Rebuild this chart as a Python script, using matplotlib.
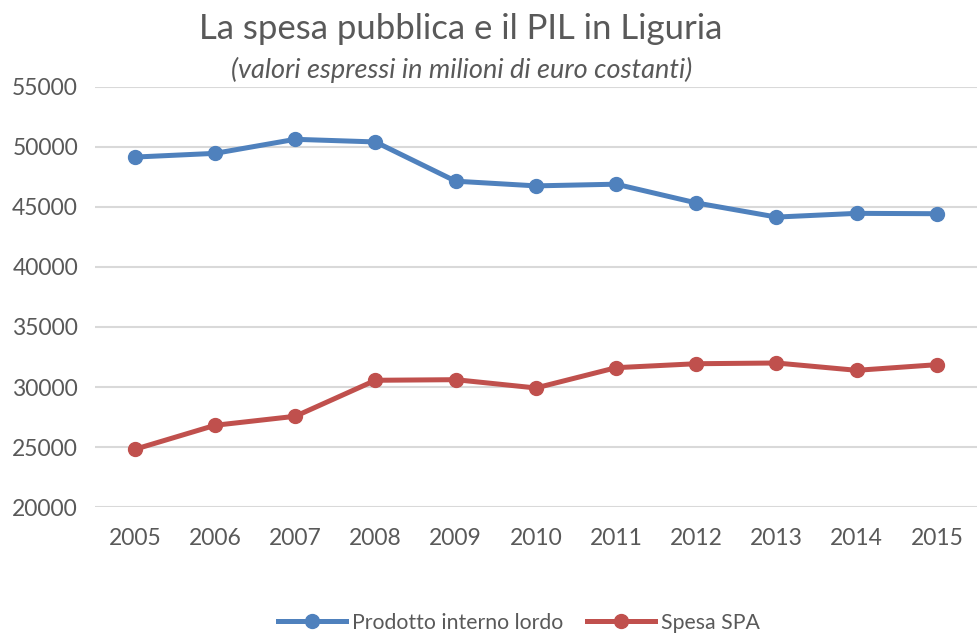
import matplotlib
matplotlib.use("Agg")
import matplotlib.pyplot as plt

anni = [2005, 2006, 2007, 2008, 2009, 2010, 2011, 2012, 2013, 2014, 2015]
pil = [49160, 49470, 50640, 50420, 47150, 46760, 46900, 45340, 44160, 44470, 44440]
spesa = [24810, 26810, 27560, 30560, 30610, 29920, 31610, 31940, 32000, 31390, 31860]
yticks = [20000, 25000, 30000, 35000, 40000, 45000, 50000, 55000]

plt.rcParams['font.family'] = ['Lato', 'DejaVu Sans']

fig = plt.figure(figsize=(9.77, 6.34), dpi=100)
ax = fig.add_axes([0.097, 0.2003, 0.903, 0.6625])

x = list(range(len(anni)))
ax.plot(x, pil, color='#4F81BD', lw=3.6, marker='o', ms=10, label='Prodotto interno lordo')
ax.plot(x, spesa, color='#C0504D', lw=3.6, marker='o', ms=10, label='Spesa SPA')

ax.set_xlim(-0.5, len(anni) - 0.5)
ax.set_ylim(20000, 55000)
ax.set_yticks(yticks)
ax.set_xticks(x)
ax.set_xticklabels([str(a) for a in anni])
ax.grid(axis='y', color='#D9D9D9', lw=1.5)
ax.set_axisbelow(True)
for s in ax.spines.values():
    s.set_visible(False)
ax.tick_params(length=0, labelsize=16.5, colors='#595959', pad=15)
ax.tick_params(axis='y', pad=12)

fig.text(0.472, 0.955, 'La spesa pubblica e il PIL in Liguria', ha='center', va='center',
         fontsize=25, color='#595959')
fig.text(0.472, 0.89, '(valori espressi in milioni di euro costanti)', ha='center', va='center',
         fontsize=19.5, style='italic', color='#595959')

fig.legend(loc='center', bbox_to_anchor=(0.531, 0.018), ncol=2, frameon=False,
           fontsize=15.3, labelcolor='#595959', handlelength=3.2, columnspacing=1.1,
           handletextpad=0.3)

fig.savefig('out.png', dpi=100)
